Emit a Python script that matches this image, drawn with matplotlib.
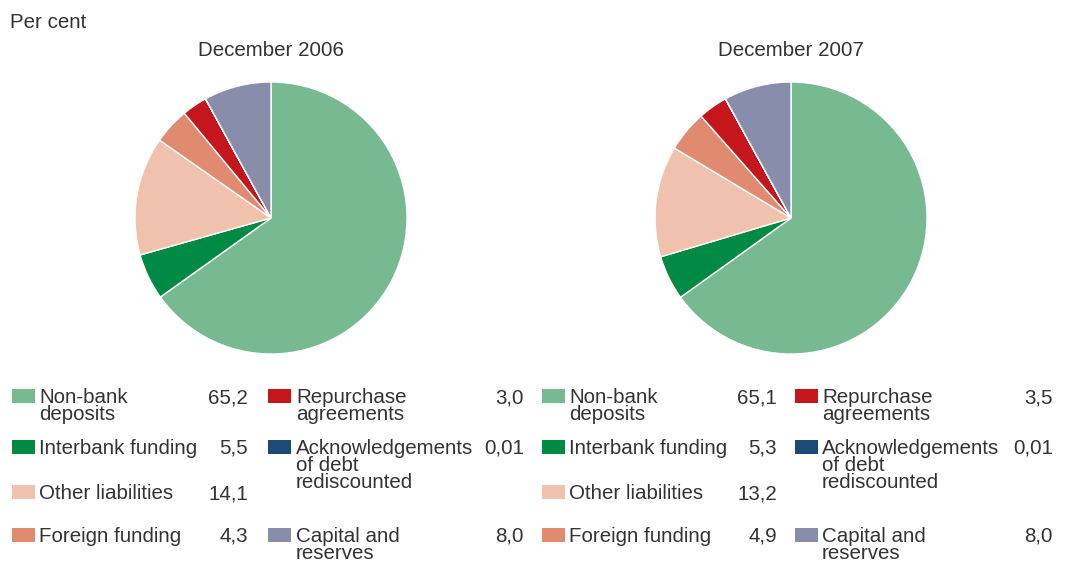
import numpy as np
import matplotlib.pyplot as plt
from matplotlib.patches import Rectangle

plt.rcParams['font.family'] = ['Liberation Sans', 'DejaVu Sans']

labels = ["Non-bank\ndeposits", "Interbank funding", "Other liabilities", "Foreign funding",
          "Repurchase\nagreements", "Acknowledgements\nof debt\nrediscounted", "Capital and\nreserves"]
values_2006 = [65.2, 5.5, 14.1, 4.3, 3.0, 0.01, 8.0]
values_2007 = [65.1, 5.3, 13.2, 4.9, 3.5, 0.01, 8.0]
value_text_2006 = ["65,2", "5,5", "14,1", "4,3", "3,0", "0,01", "8,0"]
value_text_2007 = ["65,1", "5,3", "13,2", "4,9", "3,5", "0,01", "8,0"]
titles = ["December 2006", "December 2007"]
colors = ["#77BA91", "#008A43", "#F0C2AD", "#E08A70", "#C4161C", "#1C4A74", "#888DAB"]

W, H = 1066, 561
TXT = "#333333"
FS = 14.8

fig = plt.figure(figsize=(W / 100, H / 100), dpi=100)

def fx(px):
    return px / W

def fy(py):
    return 1 - py / H

fig.text(fx(10), fy(22), "Per cent", fontsize=FS, color=TXT, va='center', ha='left')

# legend layout (pixel positions of first line for each item)
rows = [396, 447, 492, 535, 396, 447, 535]
cols = [0, 0, 0, 0, 1, 1, 1]

panels = [
    dict(cx=271, values=values_2006, vtext=value_text_2006,
         swatch=[12, 268], text=[39, 296], val=[248, 524]),
    dict(cx=791, values=values_2007, vtext=value_text_2007,
         swatch=[542, 795], text=[569, 822], val=[777, 1053]),
]

R = 136
cy = 218
for p, title in zip(panels, titles):
    ax = fig.add_axes([fx(p['cx'] - R), fy(cy + R), 2 * R / W, 2 * R / H])
    ax.pie(p['values'], colors=colors, startangle=90, counterclock=False,
           wedgeprops=dict(edgecolor='white', linewidth=1.0))
    ax.set_xlim(-1, 1)
    ax.set_ylim(-1, 1)
    ax.set_aspect('auto')
    ax.axis('off')
    fig.text(fx(p['cx']), fy(50), title, fontsize=FS, color=TXT, ha='center', va='center')

    for i in range(len(labels)):
        c = cols[i]
        y = rows[i]
        fig.add_artist(Rectangle((fx(p['swatch'][c]), fy(y + 7)), 23 / W, 14 / H,
                                 transform=fig.transFigure, color=colors[i], lw=0))
        fig.text(fx(p['text'][c]), fy(y - 8), labels[i], fontsize=FS, color=TXT,
                 ha='left', va='top', linespacing=0.88)
        fig.text(fx(p['val'][c]), fy(y - 8), p['vtext'][i], fontsize=FS, color=TXT,
                 ha='right', va='top')

fig.savefig("out.png", dpi=100)
